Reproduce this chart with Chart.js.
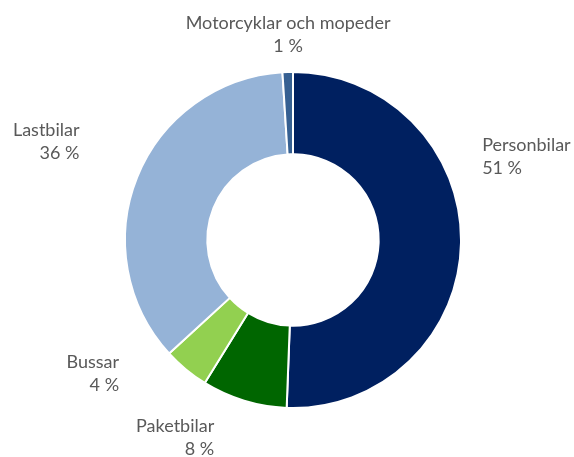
<!DOCTYPE html>
<html>
<head>
<meta charset="utf-8">
<script src="https://cdn.jsdelivr.net/npm/chart.js@4.4.1/dist/chart.umd.min.js"></script>
<style>
html,body{margin:0;padding:0;background:#fff;}
#wrap{position:relative;width:574px;height:457px;}
</style>
</head>
<body>
<div id="wrap"><canvas id="c" width="574" height="457"></canvas></div>
<script>
const categories = ['Personbilar', 'Paketbilar', 'Bussar', 'Lastbilar', 'Motorcyklar och mopeder'];
const shares = [50.6, 8.2, 4.4, 35.8, 1.0];
const colors = ['#002060', '#006600', '#92D050', '#95B3D7', '#366092'];

// label placement: alignment and nudge relative to the slice's outer mid-point
const labelAlign = ['left', 'right', 'right', 'right', 'center'];
const labelNudge = [[1, -87], [-24, 18], [-54, -11], [-39, -28], [1, -17]];

const outsideLabels = {
  id: 'outsideLabels',
  afterDatasetsDraw(chart) {
    const ctx = chart.ctx;
    const meta = chart.getDatasetMeta(0);
    ctx.save();
    ctx.font = '18px Lato, "Liberation Sans", sans-serif';
    ctx.fillStyle = '#595959';
    ctx.textBaseline = 'middle';
    meta.data.forEach((arc, i) => {
      const p = arc.getProps(['x', 'y', 'startAngle', 'endAngle', 'outerRadius'], true);
      const mid = (p.startAngle + p.endAngle) / 2;
      const r = p.outerRadius * 1.12;
      const ax = p.x + Math.cos(mid) * r + labelNudge[i][0];
      const ay = p.y + Math.sin(mid) * r + labelNudge[i][1];
      ctx.textAlign = labelAlign[i];
      ctx.fillText(categories[i], ax, ay - 11.5);
      ctx.fillText(Math.round(shares[i]) + ' %', ax, ay + 11.5);
    });
    ctx.restore();
  }
};

new Chart(document.getElementById('c'), {
  type: 'doughnut',
  data: {
    labels: categories,
    datasets: [{
      data: shares,
      backgroundColor: colors,
      borderColor: '#ffffff',
      borderWidth: 2
    }]
  },
  options: {
    responsive: false,
    animation: false,
    cutout: '51%',
    layout: { padding: { left: 124, right: 112, top: 71, bottom: 48 } },
    plugins: {
      legend: { display: false },
      tooltip: { enabled: false }
    }
  },
  plugins: [outsideLabels]
});
</script>
</body>
</html>
